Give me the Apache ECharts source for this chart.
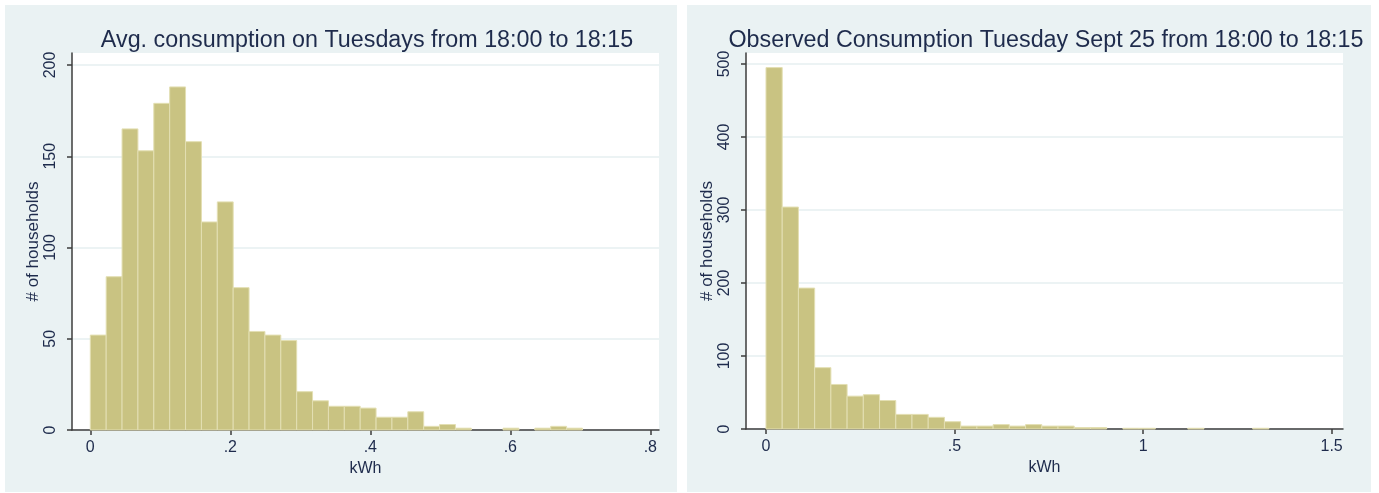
<!DOCTYPE html>
<html>
<head>
<meta charset="utf-8">
<script src="https://cdn.jsdelivr.net/npm/echarts@6/dist/echarts.min.js"></script>
<style>
  html, body { margin: 0; padding: 0; background: #ffffff; }
  #wrap { position: relative; width: 1379px; height: 493px; overflow: hidden; }
  .panel { position: absolute; background: #eaf2f3; }
  #chart { position: absolute; left: 0; top: 0; width: 1379px; height: 493px; }
</style>
</head>
<body>
<div id="wrap">
  <div class="panel" style="left:5px;top:5px;width:672px;height:487px;"></div>
  <div class="panel" style="left:687px;top:5px;width:684px;height:487px;"></div>
  <div id="chart"></div>
</div>
<script>
// ---- Data ----
const leftTitle = 'Avg. consumption on Tuesdays from 18:00 to 18:15';
const rightTitle = 'Observed Consumption Tuesday Sept 25 from 18:00 to 18:15';
const xName = 'kWh';
const yName = '# of households';

// histogram bins: start value and bin width (kWh)
const leftBinStart = 0;
const leftBinWidth = 0.02268;
const leftCounts = [52, 84, 165, 153, 179, 188, 158, 114, 125, 78, 54, 52, 49, 21, 16, 13, 13, 12, 7, 7, 10, 2, 3, 1, 0, 0, 1, 0, 1, 2, 1];

const rightBinStart = 0;
const rightBinWidth = 0.04302;
const rightCounts = [495, 304, 193, 84, 61, 45, 47, 39, 20, 20, 16, 10, 4, 4, 6, 4, 6, 4, 4, 2, 2, 0, 1, 1, 0, 0, 1, 0, 0, 0, 1];

// tick values and labels
const leftXTicks = [0, 0.2, 0.4, 0.6, 0.8];
const leftXTickLabels = ['0', '.2', '.4', '.6', '.8'];
const leftYTicks = [0, 50, 100, 150, 200];
const rightXTicks = [0, 0.5, 1, 1.5];
const rightXTickLabels = ['0', '.5', '1', '1.5'];
const rightYTicks = [0, 100, 200, 300, 400, 500];

// ---- Build ----
function toBins(start, width, counts) {
  return counts.map((c, i) => [start + i * width, start + (i + 1) * width, c]);
}

const barFill = '#c9c382';
const barStroke = '#e3dfb3';
const textColor = '#1e2b4c';
const axisColor = '#3c3c3c';
const gridColor = '#e6eff1';
const font = 'Liberation Sans, Arial, sans-serif';

function renderItem(params, api) {
  const x0 = api.value(0), x1 = api.value(1), c = api.value(2);
  if (!c) return null;
  const p0 = api.coord([x0, c]);
  const p1 = api.coord([x1, 0]);
  return {
    type: 'rect',
    shape: { x: p0[0], y: p0[1], width: p1[0] - p0[0], height: p1[1] - p0[1] },
    style: { fill: barFill, stroke: barStroke, lineWidth: 1 }
  };
}

function xAxis(gridIndex, min, max, ticks, labels) {
  return {
    type: 'value', gridIndex, min, max,
    name: xName, nameLocation: 'middle', nameGap: 29,
    nameTextStyle: { fontSize: 16, color: textColor, fontFamily: font },
    axisLine: { show: true, onZero: false, lineStyle: { color: axisColor, width: 1.5 } },
    axisTick: { show: true, length: 5, customValues: ticks, lineStyle: { color: axisColor, width: 1.5 } },
    axisLabel: {
      show: true, margin: 10, fontSize: 16, color: textColor, fontFamily: font,
      customValues: ticks,
      formatter: v => { const i = ticks.findIndex(t => Math.abs(t - v) < 1e-9); return i >= 0 ? labels[i] : ''; }
    },
    splitLine: { show: false }
  };
}

function yAxis(gridIndex, max, ticks, nameGap) {
  return {
    type: 'value', gridIndex, min: 0, max,
    name: yName, nameLocation: 'middle', nameGap, nameRotate: 90,
    nameTextStyle: { fontSize: 17, color: textColor, fontFamily: font },
    axisLine: { show: true, onZero: false, lineStyle: { color: axisColor, width: 1.5 } },
    axisTick: { show: true, length: 5, customValues: ticks, lineStyle: { color: axisColor, width: 1.5 } },
    axisLabel: {
      show: true, rotate: 90, margin: 13, fontSize: 16, color: textColor, fontFamily: font,
      customValues: ticks
    },
    splitLine: { show: true, lineStyle: { color: gridColor, width: 1.5 } }
  };
}

const chart = echarts.init(document.getElementById('chart'), null, { renderer: 'canvas' });
chart.setOption({
  backgroundColor: 'transparent',
  animation: false,
  title: [
    { text: leftTitle, left: 362, top: 24, textAlign: 'center',
      textStyle: { fontSize: 23.3, fontWeight: 'normal', color: textColor, fontFamily: font } },
    { text: rightTitle, left: 1041, top: 24, textAlign: 'center',
      textStyle: { fontSize: 23.3, fontWeight: 'normal', color: textColor, fontFamily: font } }
  ],
  grid: [
    { left: 72, top: 53, width: 587, height: 377, show: true, backgroundColor: '#ffffff', borderWidth: 0 },
    { left: 746, top: 53, width: 597, height: 376, show: true, backgroundColor: '#ffffff', borderWidth: 0 }
  ],
  xAxis: [
    xAxis(0, -0.02614, 0.81243, leftXTicks, leftXTickLabels),
    xAxis(1, -0.0530, 1.5301, rightXTicks, rightXTickLabels)
  ],
  yAxis: [
    yAxis(0, 206.58, leftYTicks, 30),
    yAxis(1, 515, rightYTicks, 20)
  ],
  series: [
    { type: 'custom', xAxisIndex: 0, yAxisIndex: 0, renderItem,
      encode: { x: [0, 1], y: 2 }, data: toBins(leftBinStart, leftBinWidth, leftCounts) },
    { type: 'custom', xAxisIndex: 1, yAxisIndex: 1, renderItem,
      encode: { x: [0, 1], y: 2 }, data: toBins(rightBinStart, rightBinWidth, rightCounts) }
  ]
});
</script>
</body>
</html>
